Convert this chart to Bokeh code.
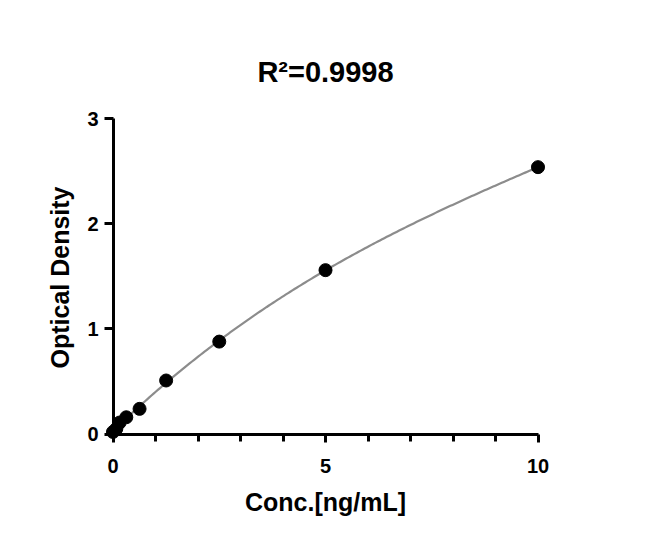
import numpy as np
from bokeh.plotting import figure
from bokeh.models import FixedTicker, Range1d, LinearAxis
from bokeh.embed import file_html
from bokeh.resources import INLINE

# Data
conc = [0, 0.078, 0.156, 0.3125, 0.625, 1.25, 2.5, 5, 10]
od = [0.02, 0.05, 0.11, 0.16, 0.24, 0.51, 0.88, 1.56, 2.54]
x_major = [0, 5, 10]
x_minor = [1, 2, 3, 4, 6, 7, 8, 9]
y_major = [0, 1, 2, 3]
title_text = "R\u00b2=0.9998"
x_label = "Conc.[ng/mL]"
y_label = "Optical Density"

# fitted standard curve (least squares fit of the data)
coef = np.polyfit(conc, od, 3)
xf = np.linspace(0, 10, 200)
yf = np.polyval(coef, xf)

FONT = "Liberation Sans"

p = figure(width=634, height=534, output_backend="svg", toolbar_location=None,
           x_range=Range1d(-0.2, 10.2), y_range=Range1d(-0.08, 3.06),
           min_border_left=104, min_border_right=88, min_border_top=112, min_border_bottom=92,
           title=title_text)
p.outline_line_color = None
p.grid.visible = False
p.background_fill_color = "white"

p.title.text_font = FONT
p.title.text_font_style = "bold"
p.title.text_font_size = "29px"
p.title.align = "center"
p.title.text_color = "black"
p.title.standoff = 50

p.line(xf, yf, line_color="#8c8c8c", line_width=2.2)
p.scatter(conc, od, size=13, color="black")

# label axes (at frame edges): texts only
xa = p.xaxis[0]
ya = p.yaxis[0]
xa.ticker = FixedTicker(ticks=x_major, minor_ticks=[])
ya.ticker = FixedTicker(ticks=y_major, minor_ticks=[])
for ax in (xa, ya):
    ax.axis_line_color = None
    ax.major_tick_line_color = None
    ax.minor_tick_line_color = None
    ax.major_tick_out = 0
    ax.major_tick_in = 0
    ax.minor_tick_out = 0
    ax.minor_tick_in = 0
    ax.major_label_text_font = FONT
    ax.major_label_text_font_style = "bold"
    ax.major_label_text_font_size = "20px"
    ax.major_label_text_color = "black"
    ax.axis_label_text_font = FONT
    ax.axis_label_text_font_style = "bold"
    ax.axis_label_text_color = "black"
    ax.axis_label_text_font_size = "25px"
xa.axis_label = x_label
ya.axis_label = y_label
ya.axis_label_text_font_size = "25px"
xa.major_label_standoff = 16
ya.major_label_standoff = 6
xa.axis_label_standoff = 12
ya.axis_label_standoff = 10

# line/tick axes drawn at data zero
def line_axis(ticks, minor, bounds):
    a = LinearAxis(fixed_location=0, bounds=bounds,
                   ticker=FixedTicker(ticks=ticks, minor_ticks=minor))
    a.axis_line_width = 3
    a.axis_line_color = "black"
    a.major_tick_line_width = 3
    a.minor_tick_line_width = 3
    a.major_tick_out = 10
    a.major_tick_in = 0
    a.minor_tick_out = 7
    a.minor_tick_in = 0
    a.major_label_text_font_size = "0px"
    a.major_label_text_alpha = 0
    return a

p.add_layout(line_axis(x_major, x_minor, (0, 10)), "below")
p.add_layout(line_axis(y_major, [], (0, 3)), "left")

open("out.html", "w").write(file_html(p, INLINE))
